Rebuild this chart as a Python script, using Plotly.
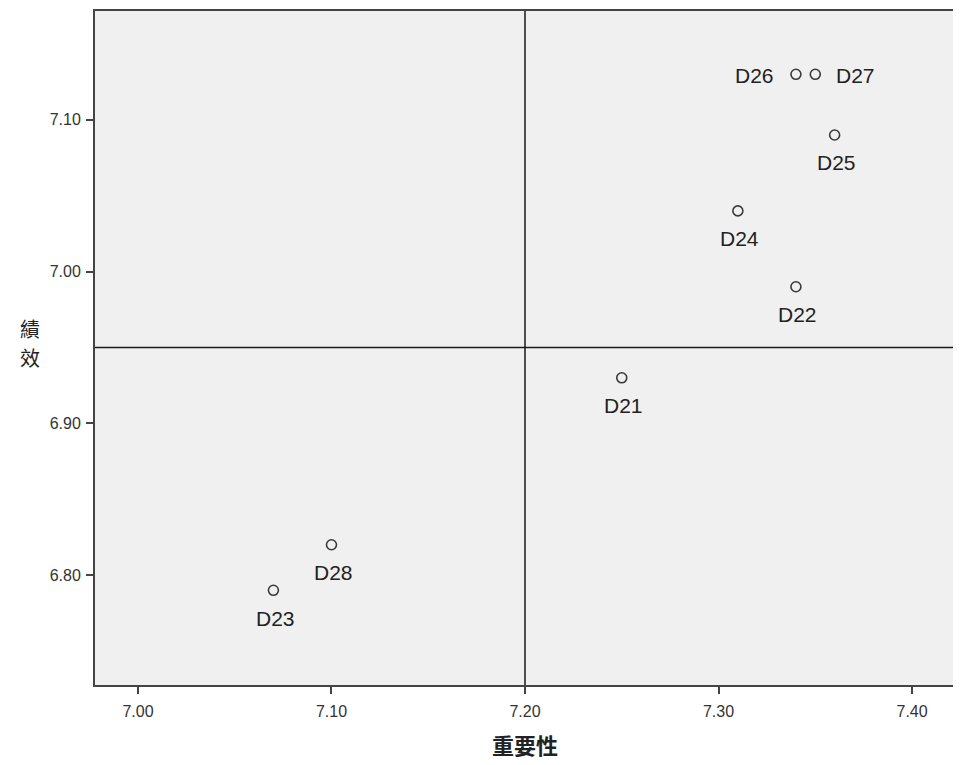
import plotly.graph_objects as go

labels = ["D21", "D22", "D23", "D24", "D25", "D26", "D27", "D28"]
importance = [7.25, 7.34, 7.07, 7.31, 7.36, 7.34, 7.35, 7.10]
performance = [6.93, 6.99, 6.79, 7.04, 7.09, 7.13, 7.13, 6.82]
label_side = ["below", "below", "below", "below", "below", "left", "right", "below"]

x_ticks = [7.00, 7.10, 7.20, 7.30, 7.40]
y_ticks = [6.80, 6.90, 7.00, 7.10]
x_mean = 7.20
y_mean = 6.95

fig = go.Figure()
fig.add_trace(go.Scatter(
    x=importance, y=performance, mode="markers",
    marker=dict(symbol="circle-open", size=10, color="#3a3a3a", line=dict(width=1.6)),
    hoverinfo="text", text=labels, showlegend=False,
))

for lab, xv, yv, side in zip(labels, importance, performance, label_side):
    if side == "left":
        kw = dict(xanchor="right", yanchor="middle", xshift=-20, yshift=-1)
    elif side == "right":
        kw = dict(xanchor="left", yanchor="middle", xshift=19, yshift=-1)
    else:
        kw = dict(xanchor="center", yanchor="middle", xshift=2, yshift=-28)
    fig.add_annotation(x=xv, y=yv, text=lab, showarrow=False,
                       font=dict(family="Arial, Liberation Sans", size=21, color="#222222"), **kw)

fig.add_shape(type="line", xref="x", yref="paper", x0=x_mean, x1=x_mean, y0=0, y1=1,
              line=dict(color="#1a1a1a", width=1.5))
fig.add_shape(type="line", xref="paper", yref="y", x0=0, x1=1, y0=y_mean, y1=y_mean,
              line=dict(color="#1a1a1a", width=1.5))

axis_common = dict(
    showgrid=False, zeroline=False, showline=True, mirror=True,
    linecolor="#444444", linewidth=2, ticks="outside", ticklen=7, tickwidth=2,
    tickcolor="#444444", tickfont=dict(family="Arial, Liberation Sans", size=16, color="#333333"),
)

fig.update_xaxes(range=[6.9778, 7.4222], tickvals=x_ticks,
                 ticktext=[f"{v:.2f}" for v in x_ticks], ticklabelstandoff=4, **axis_common)
fig.update_yaxes(range=[6.7276, 7.1717], tickvals=y_ticks,
                 ticktext=[f"{v:.2f}" for v in y_ticks], ticklabelstandoff=2, **axis_common)

# vertical y-axis title, one character per line (as in the reference)
for ch, ypix in (("績", 318), ("效", 348)):
    fig.add_annotation(xref="paper", yref="paper", x=-0.076,
                       y=1 - ypix / 676, text=ch,
                       showarrow=False, xanchor="center", yanchor="middle",
                       font=dict(family="Noto Sans CJK TC", size=20, color="#222222"))
fig.add_annotation(xref="x", yref="paper", x=x_mean, y=-0.088, text="<b>重要性</b>",
                   showarrow=False, xanchor="center", yanchor="middle",
                   font=dict(family="Noto Sans CJK TC", size=22, color="#222222"))

fig.update_layout(
    width=953, height=757,
    margin=dict(l=87, r=6, t=1, b=80),
    plot_bgcolor="#f0f0f0", paper_bgcolor="white",
)

fig.write_html("out.html")
